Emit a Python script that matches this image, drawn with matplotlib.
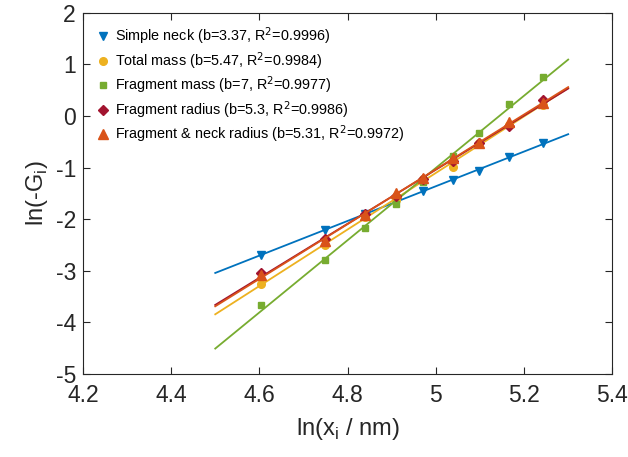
import matplotlib.pyplot as plt
import numpy as np

plt.rcParams['font.family'] = ['Liberation Sans', 'DejaVu Sans']
plt.rcParams['axes.unicode_minus'] = False

# ln(x_i / nm)
lnx = [4.604, 4.749, 4.840, 4.909, 4.972, 5.039, 5.097, 5.165, 5.243]

# ln(-G_i) per model
simple_neck = [-2.69, -2.21, -1.90, -1.66, -1.45, -1.25, -1.06, -0.80, -0.53]
total_mass = [-3.26, -2.50, -1.96, -1.63, -1.22, -0.99, -0.53, -0.17, 0.22]
frag_mass = [-3.66, -2.79, -2.18, -1.71, -1.29, -0.77, -0.33, 0.23, 0.75]
frag_radius = [-3.05, -2.38, -1.90, -1.55, -1.22, -0.87, -0.52, -0.20, 0.31]
frag_neck = [-3.08, -2.43, -1.92, -1.49, -1.20, -0.82, -0.53, -0.12, 0.25]

labels = ['Simple neck (b=3.37, R$^2$=0.9996)',
          'Total mass (b=5.47, R$^2$=0.9984)',
          'Fragment mass (b=7, R$^2$=0.9977)',
          'Fragment radius (b=5.3, R$^2$=0.9986)',
          'Fragment & neck radius (b=5.31, R$^2$=0.9972)']

series = [simple_neck, total_mass, frag_mass, frag_radius, frag_neck]
colors = ['#0072BD', '#EDB120', '#77AC30', '#A2142F', '#D95319']
markers = ['v', 'o', 's', 'D', '^']
msizes = [6, 5.5, 5, 5, 6.5]

fit_x = np.array([4.5, 5.3])

fig = plt.figure(figsize=(6.28, 4.57), dpi=100)
ax = fig.add_axes([0.132, 0.182, 0.843, 0.790])

handles = []
for y, c, m, ms, lab in zip(series, colors, markers, msizes, labels):
    h, = ax.plot(lnx, y, linestyle='none', marker=m, color=c, markersize=ms, label=lab)
    handles.append(h)
    b, a = np.polyfit(lnx, y, 1)
    ax.plot(fit_x, a + b * fit_x, color=c, linewidth=1.3)

ax.set_xlim(4.2, 5.4)
ax.set_ylim(-5, 2)
ax.set_xticks([4.2, 4.4, 4.6, 4.8, 5.0, 5.2, 5.4])
ax.set_xticklabels(['4.2', '4.4', '4.6', '4.8', '5', '5.2', '5.4'])
ax.set_yticks(range(-5, 3))
ax.tick_params(direction='in', top=True, right=True, length=5, width=0.8,
               labelsize=16.5, colors='#262626')
ax.tick_params(axis='x', pad=7)
ax.tick_params(axis='y', pad=5)
for s in ax.spines.values():
    s.set_color('#262626')
    s.set_linewidth(0.8)

ax.set_xlabel('ln(x$_{\\mathregular{i}}$ / nm)', fontsize=17, color='#262626', labelpad=7)
ax.set_ylabel('ln(-G$_{\\mathregular{i}}$)', fontsize=17, color='#262626', labelpad=4)

ax.legend(handles=handles, loc='upper left', frameon=False, fontsize=10.4,
          handlelength=0.8, handletextpad=0.4, labelspacing=0.2,
          borderaxespad=0.3, bbox_to_anchor=(0.008, 0.992))

fig.savefig('out.png', dpi=100)
